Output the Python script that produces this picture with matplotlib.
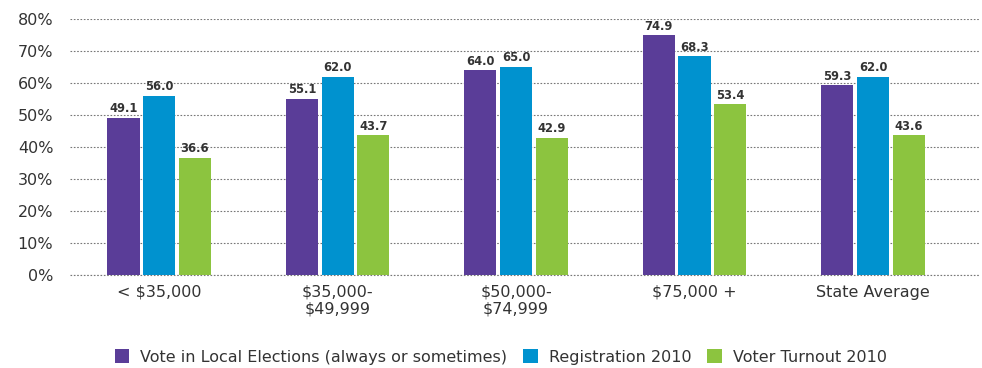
import matplotlib.pyplot as plt
import numpy as np

categories = ["< $35,000", "$35,000-\n$49,999", "$50,000-\n$74,999", "$75,000 +", "State Average"]
series_names = ["Vote in Local Elections (always or sometimes)", "Registration 2010", "Voter Turnout 2010"]
vote_local = [49.1, 55.1, 64.0, 74.9, 59.3]
registration = [56.0, 62.0, 65.0, 68.3, 62.0]
turnout = [36.6, 43.7, 42.9, 53.4, 43.6]

colors = ["#5a3d98", "#0092cf", "#8cc43f"]
plt.rcParams["font.family"] = ["DejaVu Sans"]

fig = plt.figure(figsize=(9.82, 3.68), dpi=100)
ax = fig.add_axes([70 / 982, 93 / 368, 910 / 982, 256 / 368])

x = np.arange(len(categories))
bar_width = 0.18
step = 0.2

for i, (vals, name, col) in enumerate(zip([vote_local, registration, turnout], series_names, colors)):
    pos = x + (i - 1) * step
    bars = ax.bar(pos, vals, width=bar_width, color=col, label=name, zorder=3)
    for b, v in zip(bars, vals):
        ax.text(b.get_x() + b.get_width() / 2, v + 0.8, f"{v:.1f}", ha="center", va="bottom",
                fontsize=8.3, fontweight="bold", color="#333333")

ax.set_xlim(-0.5, 4.6)
ax.set_ylim(0, 80)
ax.set_yticks(np.arange(0, 81, 10))
ax.set_yticklabels([f"{v}%" for v in range(0, 81, 10)], fontsize=11.5, color="#333333")
ax.set_xticks(x)
ax.set_xticklabels(categories, fontsize=11.5, color="#333333", linespacing=1.15)
ax.tick_params(length=0)
ax.tick_params(axis="y", pad=12)
ax.tick_params(axis="x", pad=7)
for s in ax.spines.values():
    s.set_visible(False)
ax.yaxis.grid(True, linestyle=(0, (1.5, 1.5)), color="#777777", linewidth=0.8, zorder=0)
ax.axhline(0, linestyle=(0, (1.5, 1.5)), color="#777777", linewidth=0.8, zorder=1, clip_on=False)
ax.set_axisbelow(True)

fig.legend(loc="center", bbox_to_anchor=(0.51, 0.03), ncol=3, frameon=False, fontsize=11.5,
           handlelength=0.9, handleheight=0.9, handletextpad=0.7, columnspacing=1.0, labelcolor="#333333")

plt.savefig("out.png", dpi=100)
